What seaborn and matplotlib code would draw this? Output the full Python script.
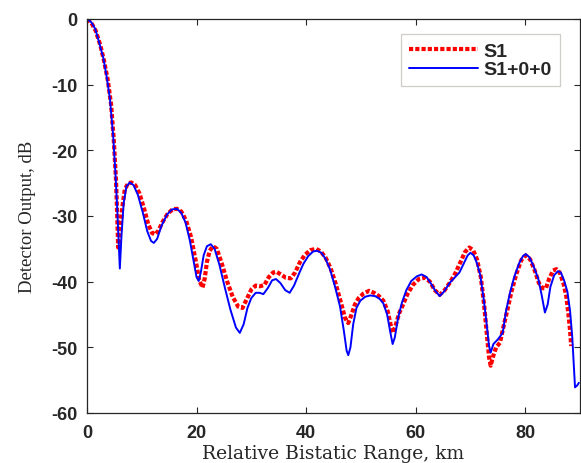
import matplotlib
matplotlib.use("Agg")
import matplotlib.pyplot as plt
import seaborn as sns
import pandas as pd

# S1+0+0 (blue solid)
x_blue = [0, 0.8, 1.5, 2.2, 3.0, 3.6, 4.2, 4.8, 5.2, 5.5, 5.8, 6.0, 6.3, 6.7, 7.2, 7.8,
          8.5, 9.3, 10.2, 11.0, 11.7, 12.2, 12.8, 13.6, 14.6, 15.5, 16.4, 17.2, 18.0,
          18.8, 19.5, 20.0, 20.4, 20.8, 21.3, 21.9, 22.6, 23.3, 24.2, 25.2, 26.2, 27.2,
          27.9, 28.6, 29.3, 30.0, 30.8, 31.5, 32.2, 33.0, 33.8, 34.5, 35.3, 36.2, 37.0,
          37.8, 38.7, 39.5, 40.4, 41.3, 42.0, 42.8, 43.6, 44.4, 45.3, 46.2, 46.9, 47.4,
          47.7, 48.1, 48.6, 49.2, 49.9, 50.8, 51.7, 52.6, 53.4, 54.1, 54.8, 55.4, 55.8,
          56.2, 56.8, 57.5, 58.3, 59.2, 60.2, 61.1, 62.0, 62.8, 63.6, 64.4, 65.2, 66.2,
          67.2, 68.0, 68.8, 69.5, 70.0, 70.6, 71.2, 71.8, 72.4, 72.9, 73.4, 73.7, 74.2,
          75.0, 75.9, 76.5, 77.2, 78.0, 78.9, 79.6, 80.1, 80.8, 81.6, 82.4, 83.0, 83.6,
          84.1, 84.6, 85.3, 86.0, 86.5, 87.1, 87.7, 88.2, 88.6, 88.9, 89.1, 89.5, 89.8]
y_blue = [0, -0.5, -1.5, -3.5, -6.0, -8.8, -12.2, -18.0, -23.5, -28.5, -34.0, -38.0, -33.0,
          -28.0, -25.5, -24.9, -25.3, -26.8, -29.5, -32.3, -33.8, -34.1, -33.5, -31.5,
          -29.8, -29.0, -28.9, -29.5, -31.0, -33.8, -37.0, -39.3, -39.9, -38.5, -36.0,
          -34.6, -34.3, -35.0, -37.5, -41.0, -44.3, -47.0, -47.8, -46.5, -44.0, -42.5,
          -41.7, -41.7, -41.9, -41.0, -39.8, -39.6, -40.2, -41.3, -41.7, -40.6, -38.8,
          -37.3, -36.1, -35.4, -35.3, -35.6, -36.6, -38.2, -40.8, -43.8, -47.5, -50.5,
          -51.2, -50.0, -46.5, -44.0, -42.9, -42.3, -42.1, -42.2, -42.6, -43.3, -45.0,
          -47.8, -49.5, -48.5, -45.5, -43.2, -41.3, -39.9, -39.2, -38.9, -39.3, -40.3,
          -41.4, -42.2, -41.5, -40.2, -39.3, -38.6, -37.2, -36.0, -35.6, -36.0, -37.2,
          -39.0, -42.5, -46.0, -49.8, -50.8, -49.5, -48.8, -47.8, -44.5, -41.8, -39.3,
          -37.2, -36.1, -35.8, -36.3, -37.8, -39.6, -42.0, -44.7, -43.5, -40.8, -39.0,
          -38.4, -38.6, -39.8, -41.5, -44.5, -48.5, -53.0, -56.1, -55.8, -55.4]

# S1 (red dotted)
x_red = [0, 0.8, 1.6, 2.4, 3.1, 3.8, 4.4, 4.9, 5.3, 5.5, 5.7, 6.0, 6.4, 6.9, 7.5, 8.1,
         8.8, 9.6, 10.4, 11.2, 11.9, 12.4, 13.0, 13.8, 14.7, 15.6, 16.4, 17.2, 18.1,
         19.0, 19.8, 20.5, 21.1, 21.5, 21.9, 22.4, 23.0, 23.7, 24.6, 25.6, 26.6, 27.6,
         28.4, 29.2, 30.0, 30.8, 31.6, 32.4, 33.2, 34.0, 34.6, 35.4, 36.3, 37.2, 38.0,
         38.9, 39.8, 40.8, 41.8, 42.7, 43.6, 44.5, 45.4, 46.3, 47.1, 47.7, 48.3, 48.9,
         49.6, 50.5, 51.5, 52.4, 53.3, 54.1, 54.9, 55.5, 55.9, 56.4, 57.0, 57.7, 58.5,
         59.5, 60.6, 61.7, 62.6, 63.5, 64.4, 65.3, 66.2, 67.2, 68.2, 69.0, 69.8, 70.5,
         71.2, 71.9, 72.5, 73.0, 73.4, 73.7, 74.1, 74.7, 75.4, 76.0, 76.7, 77.5, 78.4,
         79.3, 80.1, 80.9, 81.7, 82.5, 83.2, 83.8, 84.4, 85.1, 85.7, 86.3, 87.0, 87.5,
         87.9, 88.2, 88.4]
y_red = [0, -0.6, -1.8, -3.9, -6.3, -9.3, -13.0, -18.5, -24.5, -29.5, -34.8, -33.0, -29.0,
         -26.0, -25.0, -24.9, -25.3, -26.6, -28.8, -31.3, -32.6, -32.8, -32.3, -30.9,
         -29.7, -29.0, -28.9, -29.3, -30.7, -33.2, -36.6, -39.8, -40.9, -39.5, -37.0,
         -35.3, -34.6, -35.0, -37.2, -40.0, -42.3, -43.8, -44.0, -42.6, -41.2, -40.6,
         -40.7, -40.5, -39.3, -38.6, -38.5, -38.9, -39.4, -39.5, -38.6, -37.0, -35.9,
         -35.2, -35.0, -35.4, -36.4, -38.0, -40.3, -43.0, -45.5, -46.3, -45.0, -43.5,
         -42.5, -41.8, -41.4, -41.7, -42.2, -42.9, -44.5, -46.8, -47.8, -46.5, -44.8,
         -43.5, -41.9, -40.5, -39.6, -39.4, -40.0, -41.3, -42.0, -41.3, -40.2, -38.8,
         -37.0, -35.5, -34.8, -35.2, -36.6, -39.3, -43.5, -48.0, -51.5, -52.8, -51.5,
         -50.0, -49.3, -47.0, -44.5, -41.5, -38.8, -36.7, -36.0, -36.6, -38.2, -40.2,
         -41.0, -41.0, -39.5, -38.3, -38.1, -38.6, -40.3, -42.2, -45.0, -47.5, -49.8]

series_labels = ["S1", "S1+0+0"]
x_ticks = [0, 20, 40, 60, 80]
y_ticks = [0, -10, -20, -30, -40, -50, -60]

sns.set_style("ticks")
plt.rcParams["font.family"] = ["Liberation Sans", "DejaVu Sans"]

fig = plt.figure(figsize=(5.81, 4.64), dpi=100)
ax = fig.add_axes([0.1497, 0.1078, 0.8485, 0.8491])

df_red = pd.DataFrame({"x": x_red, "y": y_red})
df_blue = pd.DataFrame({"x": x_blue, "y": y_blue})

sns.lineplot(data=df_red, x="x", y="y", ax=ax, color="#ff0000", linewidth=3.0,
             linestyle=(0, (1.0, 0.5)), estimator=None, sort=False, label=series_labels[0])
sns.lineplot(data=df_blue, x="x", y="y", ax=ax, color="#0000ff", linewidth=1.4,
             estimator=None, sort=False, label=series_labels[1])
for ln in ax.get_lines():
    ln.set_dash_capstyle("butt")
    ln.set_solid_joinstyle("round")

ax.set_xlim(0, 90)
ax.set_ylim(-60, 0)
ax.set_xticks(x_ticks)
ax.set_yticks(y_ticks)
ax.set_xticklabels([str(v) for v in x_ticks], fontsize=13, fontweight="bold", color="#262626")
ax.set_yticklabels([str(v) for v in y_ticks], fontsize=13, fontweight="bold", color="#262626")
ax.tick_params(direction="in", length=4, width=0.8, top=True, right=True, color="#262626")
ax.tick_params(axis="x", pad=8)
ax.tick_params(axis="y", pad=7)
for s in ax.spines.values():
    s.set_visible(True)
    s.set_color("#262626")
    s.set_linewidth(0.9)

ax.set_xlabel("Relative Bistatic Range, km", fontsize=13.5, family="DejaVu Serif",
              labelpad=2, color="#262626")
ax.set_ylabel("Detector Output, dB", fontsize=13.5, family="Liberation Serif",
              labelpad=11, color="#262626")

leg = ax.legend(loc="upper right", bbox_to_anchor=(0.96, 0.962), borderaxespad=0,
                frameon=True, fancybox=False, handlelength=3.55, handletextpad=0.3,
                borderpad=0.42, labelspacing=0.05, prop={"weight": "bold", "size": 14})
leg.get_frame().set_edgecolor("#d0ccc8")
leg.get_frame().set_linewidth(0.9)
leg.get_frame().set_alpha(1)

fig.savefig("out.png", dpi=100)
